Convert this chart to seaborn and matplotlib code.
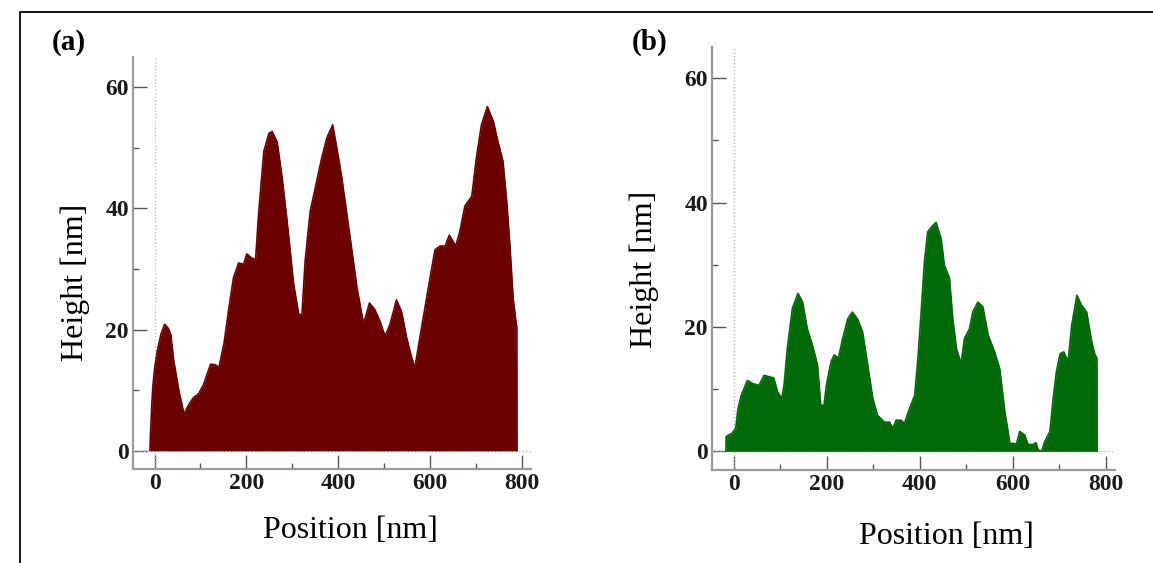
import numpy as np
import pandas as pd
import matplotlib
matplotlib.use("Agg")
import matplotlib.pyplot as plt
from matplotlib.lines import Line2D
from matplotlib.ticker import MultipleLocator
import seaborn as sns

# ---- data ----
pos_a = [-10, -9, -7, -4, 0, 6, 14, 22, 30, 35, 42, 53, 64, 75, 85, 96, 107, 122, 133,
         140, 151, 162, 172, 183, 194, 201, 212, 220, 227, 238, 249, 256, 267, 278, 288,
         303, 314, 321, 328, 339, 350, 364, 375, 388, 397, 408, 419, 430, 441, 454, 459,
         468, 480, 491, 502, 513, 527, 538, 549, 560, 567, 578, 589, 600, 611, 622, 633,
         642, 656, 665, 676, 691, 701, 712, 725, 738, 748, 759, 767, 774, 781, 787, 789, 789.5]
h_a = [0, 2.5, 6, 10.4, 13.5, 16.5, 19.3, 20.9, 20.2, 19.3, 14.8, 9.9, 6.1, 7.7, 8.8, 9.4, 11, 14.3, 14.2,
       13.7, 17.6, 23.6, 28.6, 31, 30.8, 32.5, 31.8, 31.6, 39.5, 49.4, 52.4, 52.7, 51, 45, 38.4,
       27.5, 22.6, 22.4, 31.3, 39.5, 43.4, 48.3, 51.6, 53.8, 50, 45, 39, 33, 26.9, 21.4, 21.9,
       24.4, 23.3, 21.4, 18.9, 20.9, 24.9, 23, 18.7, 15.4, 13.7, 18.7, 23.6, 28.5, 33.2, 33.8, 33.8,
       35.6, 33.8, 36.2, 40.4, 42, 48.3, 53.8, 56.8, 54.4, 51, 47.8, 41.2, 34, 25.3, 21.4, 20.5, 0]

pos_b = [-17, -16.5, -4, 4, 9, 16, 29, 40, 54, 65, 76, 86, 94, 103, 108, 115, 126, 138,
         148, 158, 169, 180, 187, 194, 199, 209, 216, 225, 234, 245, 255, 266, 277, 288,
         299, 309, 324, 335, 342, 349, 360, 367, 378, 389, 396, 403, 410, 417, 428, 435,
         446, 453, 464, 471, 479, 489, 496, 507, 514, 525, 536, 547, 561, 572, 583, 594,
         608, 615, 626, 633, 644, 650, 655, 662, 669, 680, 687, 694, 702, 710, 719, 727,
         738, 748, 759, 770, 777, 781, 781.5]
h_b = [0, 2.4, 2.9, 3.7, 6.9, 9.0, 11.4, 10.9, 10.6, 12.2, 12.0, 11.8, 9.6, 8.5, 10.6, 16.5, 23, 25.4,
       24, 19.7, 17.1, 13.9, 7.4, 7.4, 10.6, 14.4, 15.5, 15, 18.1, 21.3, 22.4, 21.3, 19.2, 13.9,
       8.5, 5.8, 4.7, 4.7, 3.7, 5.0, 5.0, 4.5, 6.9, 9.0, 14.9, 22.4, 30.4, 35.3, 36.3, 36.8,
       34.2, 29.9, 27.8, 21.3, 16.5, 14.1, 18.1, 19.7, 22.4, 24, 23.2, 18.7, 16, 13.3, 6.4, 1.3,
       1.2, 3.2, 2.6, 1.1, 1.1, 1.4, 0.2, 0, 1.6, 3.2, 8.5, 12.8, 15.7, 16.0, 14.4, 20.3,
       25.1, 23.5, 22.4, 17.6, 15.5, 15, 0]

panel_labels = ["(a)", "(b)"]
x_ticks = [0, 200, 400, 600, 800]
y_ticks = [0, 20, 40, 60]
colors = ["#6a0000", "#006a06"]

# ---- figure ----
sns.set_theme(style="ticks")
plt.rcParams["font.family"] = ["Liberation Serif", "DejaVu Serif"]

fig = plt.figure(figsize=(11.53, 5.63), dpi=100)
W, H = 1153, 563

def frac_box(x0, y_top, x1, y_bot):
    return [x0 / W, 1 - y_bot / H, (x1 - x0) / W, (y_bot - y_top) / H]

ax_a = fig.add_axes(frac_box(133, 57, 531, 469))
ax_b = fig.add_axes(frac_box(712, 47, 1115, 470))

for ax, px, hy, col in [(ax_a, pos_a, h_a, colors[0]), (ax_b, pos_b, h_b, colors[1])]:
    df = pd.DataFrame({"Position": px, "Height": hy})
    ax.fill_between(df["Position"], 0, df["Height"], color=col, linewidth=0, zorder=2)
    sns.lineplot(data=df, x="Position", y="Height", ax=ax, color=col, lw=1.2,
                 sort=False, estimator=None, zorder=3)
    ax.axhline(0, color="#b8b8b8", lw=1.0, ls=(0, (1, 1.5)), zorder=1)
    ax.axvline(0, color="#b8b8b8", lw=1.0, ls=(0, (1, 1.5)), zorder=1)
    ax.set_xlim(-47, 820)
    ax.set_ylim(-3, 65)
    ax.set_xticks(x_ticks)
    ax.set_yticks(y_ticks)
    ax.xaxis.set_minor_locator(MultipleLocator(100))
    ax.yaxis.set_minor_locator(MultipleLocator(10))
    ax.tick_params(which="major", direction="in", length=10, width=1.0, color="#555555",
                   labelsize=17, pad=3, labelcolor="#1a1a1a")
    ax.tick_params(which="minor", direction="in", length=4, width=1.0, color="#555555")
    for lab in ax.get_xticklabels() + ax.get_yticklabels():
        lab.set_fontweight("bold")
    for s in ["top", "right"]:
        ax.spines[s].set_visible(False)
    for s in ["left", "bottom"]:
        ax.spines[s].set_color("#9a9a9a")
        ax.spines[s].set_linewidth(1.6)
    ax.set_xlabel("")
    ax.set_ylabel("")
    ax.set_facecolor("white")

# axis labels
fig.text(350 / W, 1 - 530 / H, "Position [nm]", ha="center", va="center", fontsize=23, color="black")
fig.text(946 / W, 1 - 537 / H, "Position [nm]", ha="center", va="center", fontsize=23, color="black")
fig.text(75 / W, 1 - 282 / H, "Height [nm]", ha="center", va="center", rotation=90, fontsize=23, color="black")
fig.text(644 / W, 1 - 269 / H, "Height [nm]", ha="center", va="center", rotation=90, fontsize=23, color="black")

# panel labels
fig.text(69 / W, 1 - 42 / H, panel_labels[0], ha="center", va="center", fontsize=21,
         fontweight="bold", color="black")
fig.text(650 / W, 1 - 42 / H, panel_labels[1], ha="center", va="center", fontsize=21,
         fontweight="bold", color="black")

# frame lines of the screenshot
fig.add_artist(Line2D([20 / W, 1.0], [1 - 12 / H, 1 - 12 / H], transform=fig.transFigure, color="black", lw=1.3))
fig.add_artist(Line2D([20 / W, 20 / W], [0, 1 - 12 / H], transform=fig.transFigure, color="black", lw=1.3))

fig.savefig("out.png", dpi=100, facecolor="white")
